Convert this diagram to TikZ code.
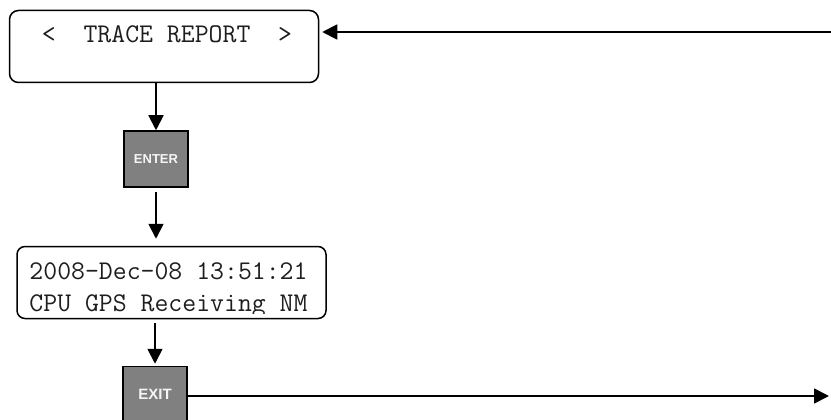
\documentclass[tikz,border=0pt]{standalone}
\usepackage{fontspec}
\setmainfont{Liberation Sans}
\definecolor{keygray}{RGB}{128,128,128}
\definecolor{keytext}{RGB}{245,245,245}
\definecolor{lcdtext}{RGB}{30,30,30}
\usepackage{tikz}
\usetikzlibrary{arrows.meta,positioning}
\tikzset{
  screen/.style={rectangle,rounded corners=9pt,draw=black,line width=1.5pt,
                 fill=white,minimum width=309pt,minimum height=72pt,inner sep=0pt},
  key/.style={rectangle,draw=black,line width=1.5pt,fill=keygray,
              text=keytext,font=\bfseries\fontsize{#1}{#1}\selectfont,
              minimum width=64pt,minimum height=56pt,inner sep=0pt},
  key/.default=13,
  lcd/.style={font=\ttfamily\fontsize{27}{32}\selectfont,text=lcdtext,inner sep=0pt},
  arr/.style={-{Triangle[length=15pt,width=15pt]},line width=1.8pt},
}
\begin{document}
\begin{tikzpicture}[x=1pt,y=-1pt]
        \useasboundingbox (0,0) rectangle (831,420);

        % Trace report screen
        \node[screen] (report) at (164,46.5) {};
        \node[lcd, anchor=base] (title) at ([xshift=3pt, yshift=-33pt]report.north)
          {<\ \ TRACE REPORT\ \ >};

        % ENTER key
        \node[key] (enter) at (156,159) {ENTER};

        % Status screen
        \node[screen, rounded corners=8pt] (status) at (171.5,282.5) {};
        \begin{scope}
          \clip (status.north west) rectangle ([yshift=6pt]status.south east);
          \node[lcd, anchor=base west] (line1) at ([xshift=13pt, yshift=-34pt]status.north west)
            {2008-Dec-08 13:51:21};
          \node[lcd, anchor=base west] (line2) at ([yshift=-32pt]line1.base west)
            {CPU GPS Receiving NM};
        \end{scope}

        % EXIT key
        \node[key=15] (exit) at (155,394.5) {EXIT};

        % loose ends at the right edge
        \coordinate (back) at (831,32);
        \coordinate (out) at (829,396);

        % arrows
        \draw[arr, shorten >=3pt] (back) -- (back -| report.east);
        \draw[arr] (enter.north |- report.south) -- (enter.north);
        \draw[arr, shorten <=4pt, shorten >=7pt] (enter.south) -- (enter.south |- status.north);
        \draw[arr, shorten <=4pt, shorten >=2pt] (exit.north |- status.south) -- (exit.north);
        \draw[arr] (exit.east |- out) -- (out);

      \end{tikzpicture}
\end{document}
